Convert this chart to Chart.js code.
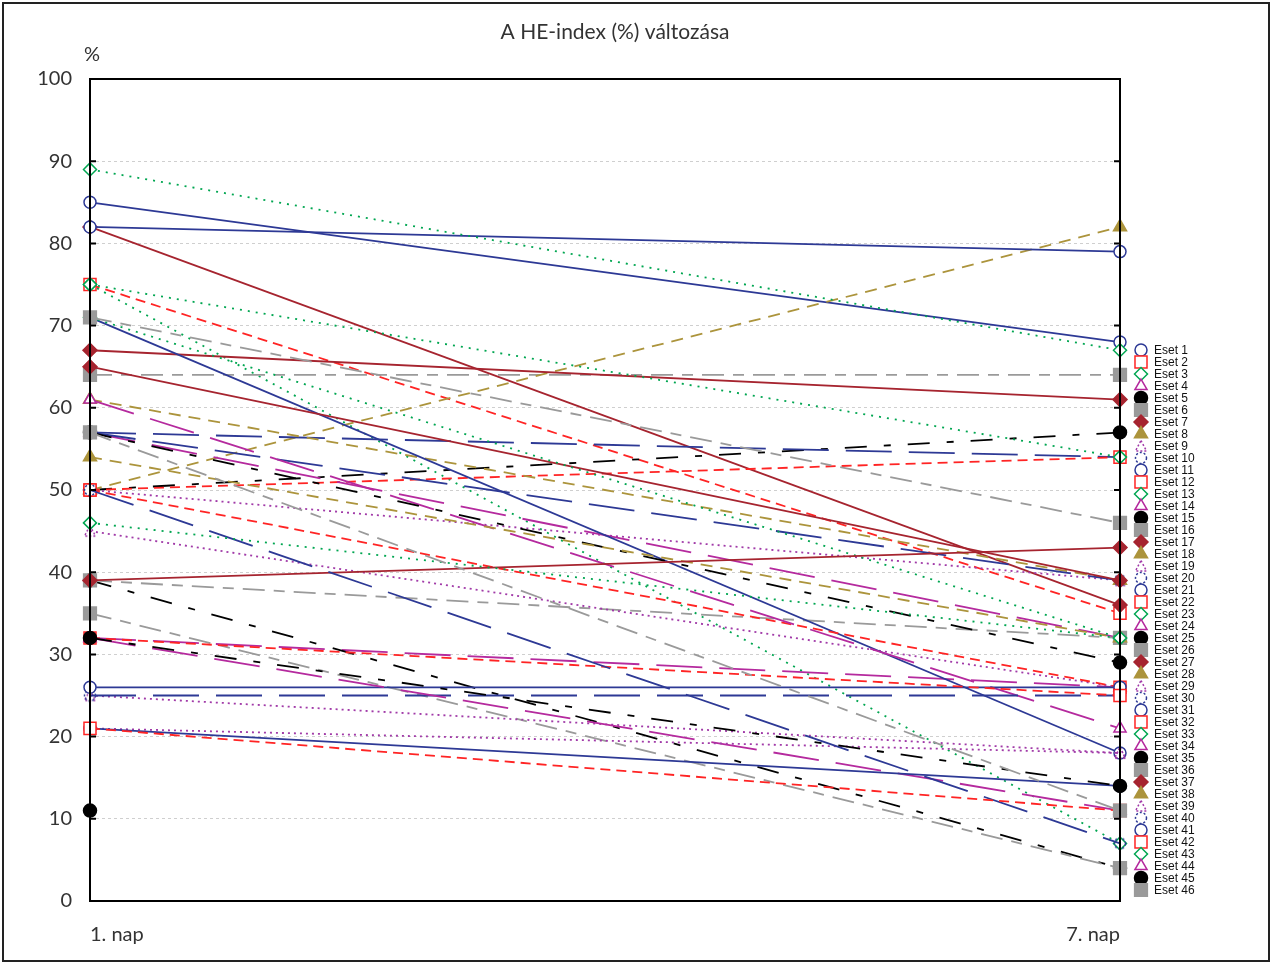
<!DOCTYPE html>
<html>
<head>
<meta charset="utf-8">
<script src="https://cdn.jsdelivr.net/npm/chart.js@4.4.1/dist/chart.umd.min.js"></script>
<style>
  html, body { margin: 0; padding: 0; background: #fff; }
  #wrap { position: relative; width: 1272px; height: 965px; }
</style>
</head>
<body>
<div id="wrap"><canvas id="c" width="1272" height="965"></canvas></div>
<script>
// HE-index (%) of 46 cases, day 1 vs day 7. null = no reading.
const days = ["1. nap", "7. nap"];
const cases = Array.from({ length: 46 }, (_, i) => "Eset " + (i + 1));

const day1 = [
  85, 75, 75, 32, 50, 64, 82, 50, 50, 57,
  82, 50, 89, 57, 39, 39, 67, 61, 45, 57,
  71, 50, 75, 61, 57, 35, 65, 54, 25, 25,
  26, 32, 71, 32, 11, 71, 39, null, 21, 50,
  21, 21, 46, null, 32, 57,
];
const day7 = [
  68, 35, 7, 26, 57, 64, 36, 82, 39, 54,
  79, 54, 67, 32, 4, 32, 61, 39, 26, 39,
  18, 26, 54, 21, 29, 4, 39, 32, 18, 25,
  26, 25, 32, 11, null, 46, 43, null, 18, 7,
  14, 11, 32, null, 14, 11,
];
const yTicks = [0, 10, 20, 30, 40, 50, 60, 70, 80, 90, 100];

// Style cycle of 10 (Statistica default look)
const COLORS = ["#2d3995", "#ff2424", "#00a651", "#b52a9e", "#000000",
                "#9a9a9a", "#a6242f", "#ac943c", "#a13aa8", "#2d3995"];
const DASHES = [[], [10, 6], [2, 6], [46, 17], [22, 17, 7, 17],
                [22, 9, 11, 9], [], [12, 8], [2, 4], [46, 17]];
const FILLED = [false, false, false, false, true, true, true, true, false, false];
const INK = "#333";
const FONT = "Lato, 'Open Sans', sans-serif";

function dottedMarker(color, shape) {
  const c = document.createElement("canvas");
  c.width = c.height = 14;
  const g = c.getContext("2d");
  g.strokeStyle = color;
  g.lineWidth = 1.5;
  g.setLineDash([2, 2]);
  g.beginPath();
  if (shape === "circle") g.arc(7, 7, 5.5, 0, Math.PI * 2);
  else { g.moveTo(7, 1.5); g.lineTo(12.5, 12); g.lineTo(1.5, 12); g.closePath(); }
  g.stroke();
  return c;
}

const STYLES = ["circle", "rect", "rectRot", "triangle", "circle",
                "rect", "rectRot", "triangle",
                dottedMarker("#a13aa8", "tri"), dottedMarker("#2d3995", "circle")];
const RADII = [6, 8.5, 6.5, 7, 6.5, 9, 7, 7.5, 7, 7];

const datasets = cases.map((name, i) => {
  const k = i % 10;
  return {
    label: name,
    data: [day1[i], day7[i]],
    order: -i, // later cases drawn on top
    borderColor: COLORS[k],
    borderDash: DASHES[k],
    borderWidth: 1.8,
    tension: 0,
    fill: false,
    pointStyle: STYLES[k],
    pointRadius: RADII[k],
    pointHoverRadius: RADII[k],
    pointBorderWidth: 1.5,
    pointBorderColor: COLORS[k],
    pointBackgroundColor: FILLED[k] ? COLORS[k] : "#ffffff",
  };
});

// Frame, inner ticks, title, "%" caption and the case legend
const decor = {
  id: "decor",
  beforeDraw(chart) {
    const ctx = chart.ctx;
    ctx.save();
    ctx.fillStyle = "#fff";
    ctx.fillRect(0, 0, chart.width, chart.height);
    ctx.strokeStyle = "#222";
    ctx.lineWidth = 2;
    ctx.strokeRect(3, 3, 1266, 958);
    ctx.restore();
  },
  afterDraw(chart) {
    const { ctx, chartArea: a } = chart;
    const y = chart.scales.y;
    ctx.save();
    ctx.strokeStyle = "#000";
    ctx.lineWidth = 2;
    ctx.strokeRect(a.left, a.top, a.right - a.left, a.bottom - a.top);
    ctx.beginPath();
    yTicks.forEach((v) => {
      const py = y.getPixelForValue(v);
      ctx.moveTo(a.left, py); ctx.lineTo(a.left + 6, py);
      ctx.moveTo(a.right, py); ctx.lineTo(a.right - 6, py);
    });
    ctx.stroke();

    ctx.fillStyle = INK;
    ctx.textBaseline = "middle";
    ctx.font = "21px " + FONT;
    ctx.textAlign = "center";
    ctx.fillText("A HE-index (%) változása", 615, 32);
    ctx.font = "20px " + FONT;
    ctx.textAlign = "left";
    ctx.fillText("%", 84, 55);

    ctx.font = "12px 'Liberation Sans', Arial, sans-serif";
    chart.data.datasets.forEach((ds, i) => {
      const ly = 350 + i * 12;
      ctx.save();
      ctx.fillStyle = ds.pointBackgroundColor;
      ctx.strokeStyle = ds.pointBorderColor;
      ctx.lineWidth = 1.5;
      ctx.setLineDash([]);
      Chart.helpers.drawPoint(ctx, {
        pointStyle: ds.pointStyle, radius: ds.pointRadius, rotation: 0, borderWidth: 1.5,
      }, 1141, ly);
      ctx.restore();
      ctx.fillStyle = "#111";
      ctx.fillText(ds.label, 1154, ly + 0.5);
    });
    ctx.restore();
  },
};

new Chart(document.getElementById("c"), {
  type: "line",
  data: { labels: days, datasets },
  options: {
    responsive: false,
    animation: false,
    events: [],
    layout: { padding: { left: 0, top: 79, right: 152, bottom: 0 } },
    scales: {
      x: {
        type: "category",
        offset: false,
        grid: { display: false },
        border: { display: false },
        ticks: { align: "inner", color: INK, font: { family: FONT, size: 20 }, padding: 14 },
        afterFit(s) { s.height = 64; },
      },
      y: {
        min: 0,
        max: 100,
        afterBuildTicks(s) { s.ticks = yTicks.map((v) => ({ value: v })); },
        grid: { color: "#cfcfcf", lineWidth: 1, drawTicks: false },
        border: { display: false, dash: [3, 3] },
        ticks: { color: INK, font: { family: FONT, size: 20 }, padding: 18 },
        afterFit(s) { s.width = 90; },
      },
    },
    plugins: { legend: { display: false }, tooltip: { enabled: false }, title: { display: false } },
  },
  plugins: [decor],
});
</script>
</body>
</html>
